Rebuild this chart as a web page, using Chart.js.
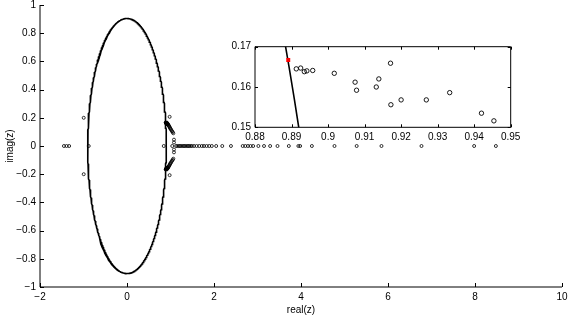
<!DOCTYPE html>
<html>
<head>
<meta charset="utf-8">
<script src="https://cdn.jsdelivr.net/npm/chart.js@4.4.1/dist/chart.umd.min.js"></script>
<style>
  body{ margin:0; background:#fff; }
  #wrap{ position:relative; width:568px; height:316px; }
  #wrap canvas{ position:absolute; left:0; top:0; }
</style>
</head>
<body>
<div id="wrap">
  <canvas id="main" width="568" height="316"></canvas>
  <canvas id="inset" width="568" height="316"></canvas>
</div>
<script>
// circle drawn in both views (radius)
const CIRCLE_R = 0.9045;

// roots on the real axis
const realRoots = [-1.45, -1.39, -1.33, -0.88, 0.845, 1.04,
  1.13, 1.16, 1.19, 1.22, 1.25, 1.28, 1.31, 1.34, 1.37, 1.40, 1.43, 1.46,
  1.49, 1.54, 1.60, 1.66, 1.72, 1.77, 1.83, 1.89, 1.95, 2.05, 2.19, 2.39,
  2.66, 2.72, 2.78, 2.84, 2.90, 3.02, 3.15, 3.29, 3.46, 3.72, 3.94, 3.98,
  4.25, 4.77, 5.28, 5.85, 6.77, 7.98, 8.48];

// complex pairs (upper half, conjugates mirrored below) outside the zoom box
const pairRe = [-0.995, 0.98, 0.955, 0.965, 0.975, 0.985, 0.995, 1.005, 1.02, 1.035, 1.05, 1.065, 1.08, 1.08];
const pairIm = [0.20, 0.207, 0.147, 0.142, 0.137, 0.130, 0.125, 0.120, 0.112, 0.105, 0.098, 0.090, 0.045, 0.025];

// roots inside the zoom box
const zoomRe = [0.8913, 0.8925, 0.8935, 0.8942, 0.8958, 0.9017, 0.9074, 0.9078,
  0.9132, 0.9139, 0.9171, 0.9172, 0.9200, 0.9269, 0.9333, 0.9420, 0.9454];
const zoomIm = [0.1645, 0.1647, 0.1638, 0.1640, 0.1641, 0.1634, 0.1612, 0.1592,
  0.1600, 0.1620, 0.1659, 0.1556, 0.1568, 0.1568, 0.1586, 0.1535, 0.1516];

// highlighted root
const markRe = [0.8891];
const markIm = [0.1667];

const mainXTicks = [-2, 10, 2];
const mainYTicks = [-1, 1, 0.2];
const zoomXTicks = [0.88, 0.95, 0.01];
const zoomYTicks = [0.15, 0.17, 0.01];

const FONT = { family: "'Liberation Sans', Arial, sans-serif", size: 10 };

function el(id){ return document.getElementById(id); }

function fmt(v, d){
  return String(parseFloat(v.toFixed(d))).replace("-", "\u2212");
}

function circlePts(){
  const pts = [];
  for(let a = 0; a <= 360; a += 0.5){
    const t = a * Math.PI / 180;
    pts.push({ x: CIRCLE_R * Math.cos(t), y: CIRCLE_R * Math.sin(t) });
  }
  return pts;
}

function zip(xs, ys){ return xs.map((x, i) => ({ x, y: ys[i] })); }

const upperPts = zip(pairRe, pairIm).concat(zip(zoomRe, zoomIm));
const allRoots = realRoots.map(x => ({ x, y: 0 }))
  .concat(upperPts)
  .concat(upperPts.map(p => ({ x: p.x, y: -p.y })));

// inward tick marks + axis lines (matlab style)
const frame = {
  id: "frame",
  beforeDraw(chart, args, o){
    if(!o.fill) return;
    const { ctx, chartArea: a } = chart;
    ctx.save();
    ctx.fillStyle = "#fff";
    ctx.fillRect(a.left, a.top, a.right - a.left, a.bottom - a.top);
    ctx.restore();
  },
  afterDraw(chart, args, o){
    const { ctx, chartArea: a, scales: { x, y } } = chart;
    const L = o.len;
    ctx.save();
    ctx.strokeStyle = "#000";
    ctx.lineWidth = 1;
    ctx.beginPath();
    if(o.box){
      ctx.rect(a.left, a.top, a.right - a.left, a.bottom - a.top);
    } else {
      ctx.moveTo(a.left, a.top); ctx.lineTo(a.left, a.bottom); ctx.lineTo(a.right, a.bottom);
    }
    x.ticks.forEach(t => {
      const px = Math.round(x.getPixelForValue(t.value)) + 0.5;
      ctx.moveTo(px, a.bottom); ctx.lineTo(px, a.bottom - L);
      if(o.box){ ctx.moveTo(px, a.top); ctx.lineTo(px, a.top + L); }
    });
    y.ticks.forEach(t => {
      const py = Math.round(y.getPixelForValue(t.value)) + 0.5;
      ctx.moveTo(a.left, py); ctx.lineTo(a.left + L, py);
      if(o.box){ ctx.moveTo(a.right, py); ctx.lineTo(a.right - L, py); }
    });
    ctx.stroke();
    ctx.restore();
  }
};

function axis(t, dec, size, extra){
  return Object.assign({
    type: "linear", min: t[0], max: t[1],
    ticks: { stepSize: t[2], padding: 4, color: "#000", font: FONT, callback: v => fmt(v, dec) },
    grid: { display: false, drawTicks: false },
    border: { display: false },
    afterFit(s){
      // fixed box size, no extra room for overhanging end labels
      if(s.isHorizontal()) s.height = size; else s.width = size;
      s.paddingTop = s.paddingBottom = s.paddingLeft = s.paddingRight = 0;
    }
  }, extra);
}

new Chart(el("main"), {
  type: "scatter",
  data: { datasets: [
    { data: circlePts(), showLine: true, borderColor: "#000", borderWidth: 1.6, pointRadius: 0, order: 2 },
    { data: allRoots, pointRadius: 1.5, borderWidth: 0.8, borderColor: "#000",
      backgroundColor: "rgba(0,0,0,0)", order: 1 }
  ]},
  options: {
    responsive: false, animation: false, devicePixelRatio: 1,
    layout: { padding: { top: 5, right: 6, left: 0, bottom: 0 } },
    plugins: { legend: { display: false }, tooltip: { enabled: false }, frame: { len: 4, box: false } },
    scales: {
      x: axis(mainXTicks, 0, 29, {
        title: { display: true, text: "real(z)", color: "#000", font: FONT, padding: 0 }
      }),
      y: axis(mainYTicks, 1, 40, {
        title: { display: true, text: "imag(z)", color: "#000", font: FONT, padding: { top: 4, bottom: 0 } }
      })
    }
  },
  plugins: [frame]
});

new Chart(el("inset"), {
  type: "scatter",
  data: { datasets: [
    { data: circlePts(), showLine: true, borderColor: "#000", borderWidth: 1.6, pointRadius: 0, order: 3 },
    { data: zip(zoomRe, zoomIm), pointRadius: 2.2, borderWidth: 0.9, borderColor: "#000",
      backgroundColor: "rgba(0,0,0,0)", order: 2 },
    { data: zip(markRe, markIm), pointStyle: "rect", pointRadius: 2.8, borderWidth: 0,
      backgroundColor: "#ff0000", order: 1 }
  ]},
  options: {
    responsive: false, animation: false, devicePixelRatio: 1,
    layout: { padding: { top: 46.7, right: 57.3, left: 225, bottom: 168.7 } },
    plugins: { legend: { display: false }, tooltip: { enabled: false }, frame: { len: 3, box: true, fill: true } },
    scales: {
      x: axis(zoomXTicks, 2, 20),
      y: axis(zoomYTicks, 2, 30)
    }
  },
  plugins: [frame]
});
</script>
</body>
</html>
